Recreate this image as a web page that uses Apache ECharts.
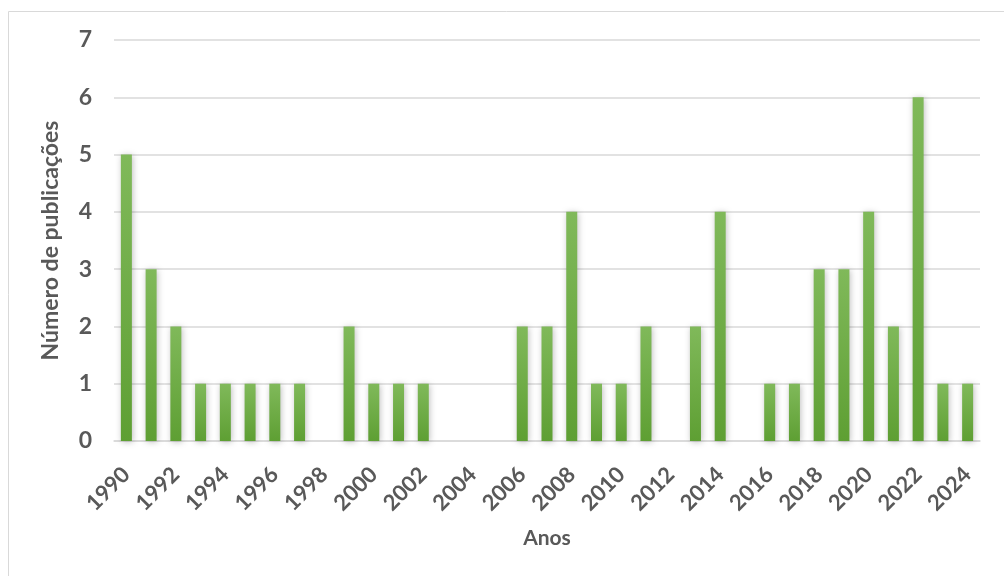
<!DOCTYPE html>
<html>
<head>
<meta charset="utf-8">
<script src="https://cdn.jsdelivr.net/npm/echarts@6/dist/echarts.min.js"></script>
<style>
  html, body { margin: 0; padding: 0; background: #fff; }
  #main { width: 1004px; height: 576px; }
</style>
</head>
<body>
<div id="main"></div>
<script>
// dados
var anos = ['1990','1991','1992','1993','1994','1995','1996','1997','1998','1999',
            '2000','2001','2002','2003','2004','2005','2006','2007','2008','2009',
            '2010','2011','2012','2013','2014','2015','2016','2017','2018','2019',
            '2020','2021','2022','2023','2024'];
var publicacoes = [5,3,2,1,1,1,1,1,0,2,
                   1,1,1,0,0,0,2,2,4,1,
                   1,2,0,2,4,0,1,1,3,3,
                   4,2,6,1,1];
var yTicks = [0,1,2,3,4,5,6,7];

var myChart = echarts.init(document.getElementById('main'));

var fonte = 'Lato, "Open Sans", sans-serif';
var cinza = '#595959';

var option = {
    animation: false,
    graphic: [{
        type: 'rect',
        shape: { x: 8.5, y: 11.5, width: 1010, height: 600 },
        style: { fill: 'none', stroke: '#d9d9d9', lineWidth: 1 },
        z: -1
    }],
    grid: { left: 114, right: 24, top: 40, bottom: 135, containLabel: false },
    xAxis: {
        type: 'category',
        data: anos,
        name: 'Anos',
        nameLocation: 'middle',
        nameGap: 87,
        nameTextStyle: { color: cinza, fontFamily: fonte, fontWeight: 'bold', fontSize: 21 },
        axisLine: { lineStyle: { color: '#d9d9d9', width: 1.5 } },
        axisTick: { show: false },
        axisLabel: {
            interval: 1,
            rotate: 45,
            margin: 30,
            color: cinza,
            fontFamily: fonte,
            fontWeight: 'bold',
            fontSize: 22
        }
    },
    yAxis: {
        type: 'value',
        min: yTicks[0],
        max: yTicks[yTicks.length - 1],
        interval: 1,
        name: 'Número de publicações',
        nameLocation: 'middle',
        nameGap: 52,
        nameTextStyle: { color: cinza, fontFamily: fonte, fontWeight: 'bold', fontSize: 23 },
        axisLine: { show: false },
        axisTick: { show: false },
        splitLine: { lineStyle: { color: '#d9d9d9', width: 1.5 } },
        axisLabel: {
            margin: 22,
            color: cinza,
            fontFamily: fonte,
            fontWeight: 'bold',
            fontSize: 23
        }
    },
    series: [{
        type: 'bar',
        data: publicacoes,
        barWidth: 11,
        itemStyle: {
            color: new echarts.graphic.LinearGradient(0, 0, 0, 1, [
                { offset: 0, color: '#80b95a' },
                { offset: 1, color: '#5e9f33' }
            ]),
            shadowColor: 'rgba(0,0,0,0.25)',
            shadowBlur: 6,
            shadowOffsetX: 1,
            shadowOffsetY: 1
        }
    }]
};
myChart.setOption(option);
</script>
</body>
</html>
